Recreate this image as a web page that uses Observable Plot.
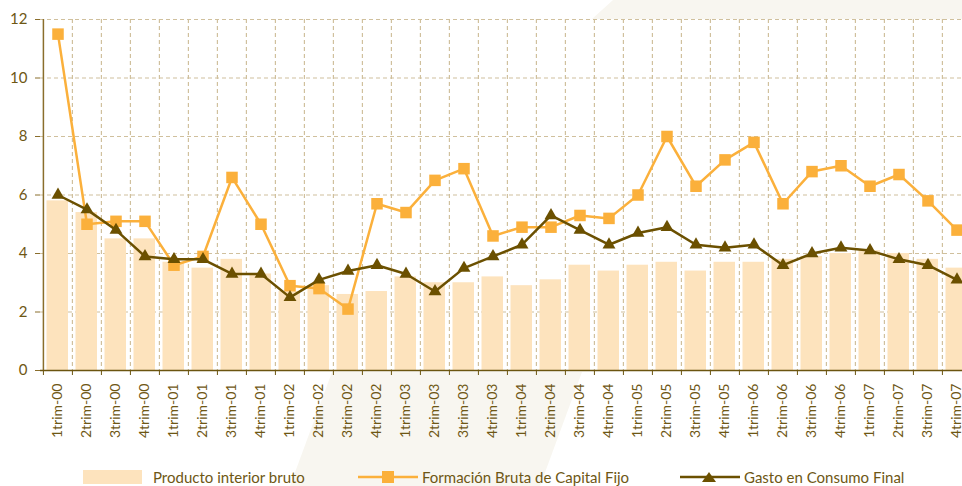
<!DOCTYPE html>
<html>
<head>
<meta charset="utf-8">
<script src="https://cdn.jsdelivr.net/npm/d3@7"></script>
<script src="https://cdn.jsdelivr.net/npm/@observablehq/plot@0.6"></script>
<style>
  html, body { margin: 0; padding: 0; background: #ffffff; overflow: hidden; width: 962px; height: 486px; }
  #wrap { position: relative; width: 962px; height: 486px; font-family: Lato, "Open Sans", sans-serif; color: #6e5714; }
  .wm { position: absolute; left: 0; top: 0; width: 962px; height: 486px; background: #f8f6f0; }
  #chart { position: absolute; left: 0; top: 0; }
  #legend { position: absolute; left: 0; top: 466px; width: 962px; height: 20px; }
  .li { position: absolute; top: 0; display: flex; align-items: center; font-size: 15px; white-space: nowrap; height: 22px; }
</style>
</head>
<body>
<div id="wrap">
  <div class="wm" style="clip-path: polygon(613px 0, 962px 0, 962px 19px, 592px 19px);"></div>
  <div class="wm" style="clip-path: polygon(332px 372px, 582px 372px, 540px 486px, 290px 486px);"></div>
  <div id="chart"></div>
  <div id="legend"></div>
</div>
<script>
const categories = ["1trim-00","2trim-00","3trim-00","4trim-00","1trim-01","2trim-01","3trim-01","4trim-01",
  "1trim-02","2trim-02","3trim-02","4trim-02","1trim-03","2trim-03","3trim-03","4trim-03",
  "1trim-04","2trim-04","3trim-04","4trim-04","1trim-05","2trim-05","3trim-05","4trim-05",
  "1trim-06","2trim-06","3trim-06","4trim-06","1trim-07","2trim-07","3trim-07","4trim-07"];
const pib   = [5.8,5.4,4.5,4.5,3.7,3.5,3.8,3.3,2.7,2.9,2.6,2.7,3.2,3.0,3.0,3.2,2.9,3.1,3.6,3.4,3.6,3.7,3.4,3.7,3.7,3.8,3.9,4.0,4.1,4.0,3.8,3.5];
const fbcf  = [11.5,5.0,5.1,5.1,3.6,3.9,6.6,5.0,2.9,2.8,2.1,5.7,5.4,6.5,6.9,4.6,4.9,4.9,5.3,5.2,6.0,8.0,6.3,7.2,7.8,5.7,6.8,7.0,6.3,6.7,5.8,4.8];
const gasto = [6.0,5.5,4.8,3.9,3.8,3.8,3.3,3.3,2.5,3.1,3.4,3.6,3.3,2.7,3.5,3.9,4.3,5.3,4.8,4.3,4.7,4.9,4.3,4.2,4.3,3.6,4.0,4.2,4.1,3.8,3.6,3.1];
const yTicks = [0,2,4,6,8,10,12];
const seriesNames = ["Producto interior bruto","Formación Bruta de Capital Fijo","Gasto en Consumo Final"];

const colors = { bar: "#fde3bd", fbcf: "#fbb03b", gasto: "#6b5000", grid: "#d0c09d", text: "#6e5714", yaxis: "#8a6e2c", xaxis: "#6b5510" };

const rows = categories.map((c, i) => ({ cat: c, pib: pib[i], fbcf: fbcf[i], gasto: gasto[i] }));

const W = 975, H = 450, ML = 40, MR = 1, MT = 19, MB = 80;
const bw = (W - ML - MR) / categories.length;
const gridStyle = { stroke: colors.grid, strokeWidth: 1.2, strokeDasharray: "4,3" };

const chart = Plot.plot({
  width: W, height: H,
  marginLeft: ML, marginRight: MR, marginTop: MT, marginBottom: MB,
  style: "background:transparent;max-width:none;font-family:Lato,'Open Sans',sans-serif;color:" + colors.text,
  x: { type: "band", domain: categories, padding: 0 },
  y: { domain: [0, 12] },
  marks: [
    Plot.frame({ fill: "white", stroke: null }),
    Plot.ruleY(yTicks.filter(d => d > 0), gridStyle),
    Plot.ruleX(categories.slice(1), { x: d => d, dx: -bw / 2, ...gridStyle }),
    Plot.barY(rows, { x: "cat", y: "pib", fill: colors.bar, insetLeft: 3.5, insetRight: 4 }),
    Plot.line(rows, { x: "cat", y: "fbcf", stroke: colors.fbcf, strokeWidth: 2.5 }),
    Plot.dot(rows, { x: "cat", y: "fbcf", symbol: "square", r: 6.5, fill: colors.fbcf, stroke: null }),
    Plot.line(rows, { x: "cat", y: "gasto", stroke: colors.gasto, strokeWidth: 2.5 }),
    Plot.dot(rows, { x: "cat", y: "gasto", symbol: "triangle", r: 4.8, fill: colors.gasto, stroke: null }),
    Plot.ruleX([categories[0]], { x: d => d, dx: -bw / 2, y1: 0, y2: 12, stroke: colors.yaxis, strokeWidth: 1.5 }),
    Plot.ruleY([0], { stroke: colors.xaxis, strokeWidth: 1.5 }),
    Plot.axisY({ ticks: yTicks, tickSize: 5, tickPadding: 8, fontSize: 15, stroke: colors.yaxis, fill: colors.text, label: null }),
    Plot.axisX({ tickFormat: () => "", dx: -bw / 2, tickSize: 5, stroke: colors.xaxis, label: null }),
    Plot.axisX({ tickSize: 0, tickPadding: 13, tickRotate: -90, fontSize: 14, fill: colors.text, label: null })
  ]
});
document.getElementById("chart").appendChild(chart);

const legend = document.getElementById("legend");
const items = [
  { left: 83, name: seriesNames[0], sw: `<svg width="59" height="14"><rect x="0" y="0" width="59" height="14" fill="${colors.bar}"/></svg>`, gap: 11 },
  { left: 358, name: seriesNames[1], sw: `<svg width="60" height="14"><line x1="0" x2="60" y1="7" y2="7" stroke="${colors.fbcf}" stroke-width="2.5"/><rect x="24" y="1" width="12" height="12" fill="${colors.fbcf}"/></svg>`, gap: 4 },
  { left: 680, name: seriesNames[2], sw: `<svg width="60" height="14"><line x1="0" x2="60" y1="7" y2="7" stroke="${colors.gasto}" stroke-width="2.5"/><path d="M29,2 L36,12 L22,12 Z" fill="${colors.gasto}"/></svg>`, gap: 4 }
];
for (const it of items) {
  const d = document.createElement("div");
  d.className = "li";
  d.style.left = it.left + "px";
  d.innerHTML = it.sw.replace("<svg", `<svg style="margin-right:${it.gap}px"`) + `<span>${it.name}</span>`;
  legend.appendChild(d);
}
</script>
</body>
</html>
